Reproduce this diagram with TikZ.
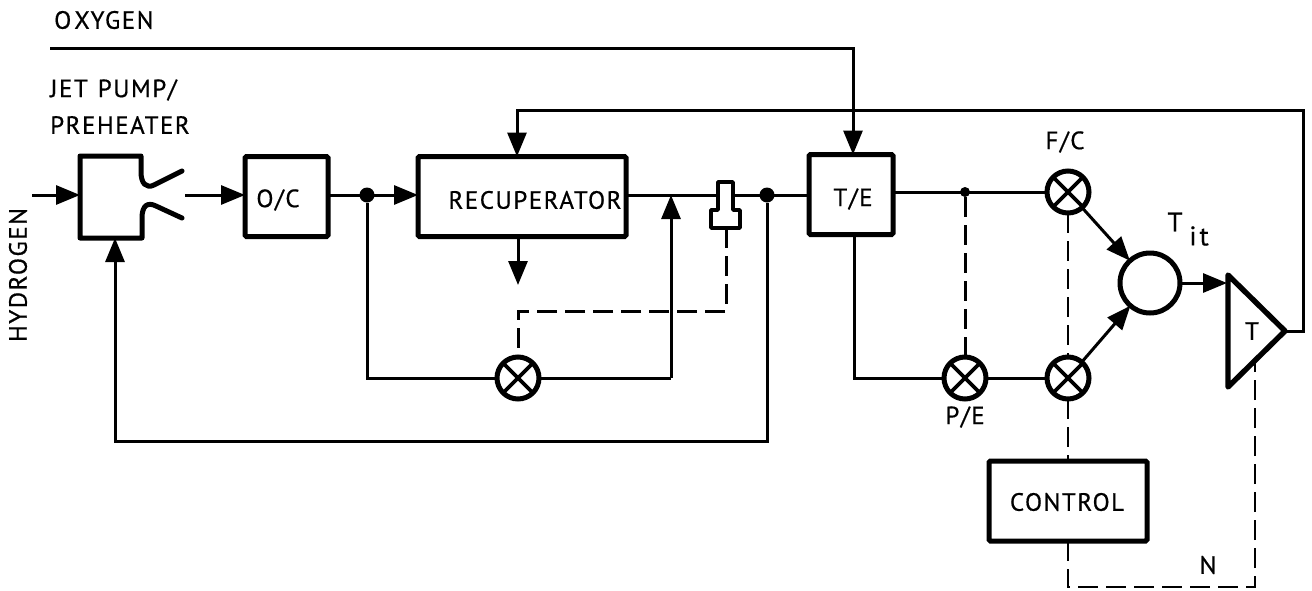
\documentclass[tikz,border=0pt]{standalone}
\usepackage{fontspec}
\setmainfont[LetterSpace=6,FakeBold=0.6]{PT Sans}
\usetikzlibrary{arrows.meta}
\tikzset{
  wire/.style={line width=3pt},
  flow/.style={wire,-{Triangle[length=24pt,width=19pt]}},
  sig/.style={line width=3pt,dash pattern=on 20pt off 8pt},
  blockbox/.style={draw,line width=5pt,rounded corners=1.5pt,outer sep=0pt,inner sep=0pt},
  mixer/.style={draw,circle,line width=5pt,minimum size=42pt,inner sep=0pt,outer sep=0pt,fill=white,
    path picture={\draw[line width=3.6pt] (path picture bounding box.north west)--(path picture bounding box.south east)
      (path picture bounding box.north east)--(path picture bounding box.south west);}},
  dotj/.style={circle,fill=black,inner sep=0pt,minimum size=15pt},
  lbl/.style={inner sep=0pt,font=\fontsize{25}{28}\selectfont},
}
\begin{document}
\begin{tikzpicture}[x=1pt,y=-1pt]
\useasboundingbox (0,0) rectangle (1312,590);
% blocks
\node[blockbox,minimum width=83pt,minimum height=80pt] (oc) at (286.5,196.5) {};
\node[blockbox,minimum width=208pt,minimum height=80pt] (rec) at (522,196.5) {};
\node[blockbox,minimum width=84pt,minimum height=80pt] (te) at (851,194.5) {};
\node[blockbox,minimum width=158pt,minimum height=80pt] (ctl) at (1068,501) {};
% jet pump
\draw[line width=5pt,line cap=round,line join=round]
  (182,171) -- (154,185) .. controls (146,189) and (141,183) .. (141,172) -- (141,156) -- (80,156) -- (80,238) -- (142,238) -- (142,218)
  .. controls (142,205) and (148,202) .. (156,206) -- (182,218);
\coordinate (jpin) at (80,195);
\coordinate (jpbot) at (115,238);
\coordinate (jpout) at (185,195);
\coordinate (hin) at (32,195);
% mixers
\node[mixer] (m1) at (518,378) {};
\node[mixer] (pe) at (965,378) {};
\node[mixer] (fc) at (1068,192) {};
\node[mixer] (m2) at (1068,378) {};
\node[draw,circle,line width=5pt,minimum size=60pt,inner sep=0pt,outer sep=0pt] (sum) at (1150,283) {};
% turbine
\draw[line width=5.4pt,line join=round] (1228,275) -- (1285,331) -- (1228,387) -- cycle;
\coordinate (tin) at (1227,283);
\coordinate (ttip) at (1285,331);
\coordinate (tbot) at (1255,359);
% junctions
\node[dotj] (j1) at (367,195) {};
\node[dotj] (j2) at (767,195) {};
\node[inner sep=0pt,minimum size=10pt,fill=black,circle] (j3) at (965,192) {};
% free coordinates
\coordinate (o2a) at (50,48);
\coordinate (o2b) at (853,48);
\coordinate (rc1) at (1303,331);
\coordinate (rc2) at (1303,110);
\coordinate (rc3) at (517,110);
\coordinate (hb) at (671,195);
\coordinate (rd) at (518,285);
\coordinate (sb) at (726,228);
\coordinate (sc) at (726,311);
\coordinate (lo1) at (367,378);
\coordinate (lo2) at (671,378);
\coordinate (lo3) at (767,441);
\coordinate (lo4) at (115,441);
\coordinate (te1) at (894,192);
\coordinate (te2) at (854,234);
\coordinate (te3) at (854,378);
\coordinate (cd1) at (1068,587);
\coordinate (cd2) at (1255,587);
% connectors
\draw[flow] (hin) -- (jpin);
\draw[flow] (jpout) -- (oc.west |- jpout);
\draw[flow] (oc.east |- j1) -- (rec.west |- j1);
\draw[wire] (rec.east |- j2) -- (te.west |- j2);
\draw[flow] (o2a) -- (o2b) -- (te.north -| o2b);
\draw[flow,line join=miter] (ttip) -- (rc1) -- (rc2) -- (rc3) -- (rc3 |- rec.north);
\draw[wire] (j1) -- (lo1) -- (m1);
\draw[wire] (m1) -- (lo2);
\draw[flow] (lo2) -- (hb);
\draw[flow] (j2) -- (lo3) -- (lo4) -- (jpbot);
\draw[flow] (rd |- rec.south) -- (rd);
\draw[wire] (te1) -- (fc);
\draw[wire] (te2) -- (te3) -- (pe);
\draw[wire] (pe) -- (m2);
\draw[flow] (fc) -- (sum);
\draw[flow] (m2) -- (sum);
\draw[flow] (sum) -- (tin);
\draw[sig] (j3) -- (pe);
\draw[sig,line width=2.6pt] (fc) -- (m2);
\draw[sig,line width=2.6pt] (m2) -- (ctl);
\draw[sig,line width=2.6pt] (ctl) -- (cd1) -- (cd2) -- (tbot);
\draw[sig] (sb) -- (sc) -- (sc -| m1) -- (m1);
% sensor
\draw[line width=3.6pt,fill=white,line join=round]
  (718,182) -- (733,182) -- (733,210) -- (740,210) -- (740,228) -- (711,228) -- (711,210) -- (718,210) -- cycle;
% labels
\node[lbl,anchor=west] (tox) at (54,20) {O\hspace{3pt}XYGEN};
\node[lbl,anchor=west] (tjp) at (50,90) {JET\hspace{10pt}PUMP/};
\node[lbl,anchor=west] (tph) at (50,125) {PREHEATER};
\node[lbl,rotate=90] (th) at (18,275) {HYDROGEN};
\node[lbl] (toc) at (278,200) {O/C};
\node[lbl] (trec) at (535,200) {RECUPERATOR};
\node[lbl] (tte) at (853,199) {T/E};
\node[lbl] (tfc) at (1065,142) {F/C};
\node[lbl] (tpe) at (965,417) {P/E};
\node[lbl] (tctl) at (1067,502) {CONTROL};
\node[lbl] (tn) at (1208,565) {N};
\node[lbl] (tt) at (1252,331) {T};
\node[lbl,font=\fontsize{27}{30}\selectfont] (tit) at (1175,222) {T};
\node[lbl,font=\fontsize{27}{30}\selectfont] (tit2) at (1199,236) {i\hspace{3pt}t};
\end{tikzpicture}
\end{document}
